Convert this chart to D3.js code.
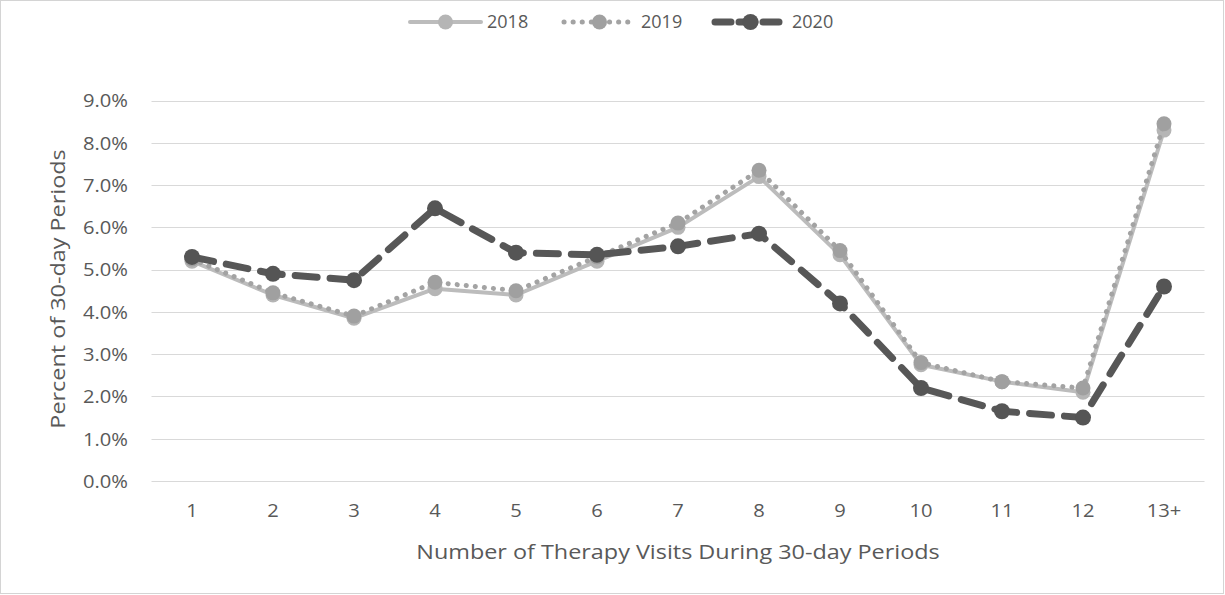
<!DOCTYPE html>
<html>
<head>
<meta charset="utf-8">
<script src="https://cdnjs.cloudflare.com/ajax/libs/d3/7.8.5/d3.min.js"></script>
<style>
  body{margin:0;background:#fff;}
  svg text{font-family:"Open Sans",sans-serif;fill:#595959;}
</style>
</head>
<body>
<svg id="chart" width="1225" height="595"></svg>
<script>
// values (percent)
var cats=['1','2','3','4','5','6','7','8','9','10','11','12','13+'];
var years=['2018','2019','2020'];
var v2018=[5.2,4.4,3.85,4.55,4.4,5.2,6.0,7.2,5.35,2.75,2.35,2.1,8.3];
var v2019=[5.25,4.45,3.9,4.7,4.5,5.3,6.1,7.35,5.45,2.8,2.35,2.2,8.45];
var v2020=[5.3,4.9,4.75,6.45,5.4,5.35,5.55,5.85,4.2,2.2,1.65,1.5,4.6];
var yTicks=[0,1,2,3,4,5,6,7,8,9];

var svg=d3.select('#chart');
var pLeft=151.5,pRight=1204.5,pTop=100.5,pBottom=481;

var x=d3.scaleBand().domain(cats).range([pLeft,pRight]);
var y=d3.scaleLinear().domain([0,9]).range([pBottom,pTop]);

// outer frame
svg.append('rect').attr('x',0.5).attr('y',0.5).attr('width',1223).attr('height',593)
  .attr('fill','none').attr('stroke','#d4d4d4');

// gridlines
svg.append('g').selectAll('line').data(yTicks).enter().append('line')
  .attr('x1',pLeft).attr('x2',pRight)
  .attr('y1',function(d){return Math.round(y(d))+0.5})
  .attr('y2',function(d){return Math.round(y(d))+0.5})
  .attr('stroke','#d9d9d9').attr('stroke-width',1);

// y axis
var yAxis=d3.axisLeft(y).tickValues(yTicks).tickSize(0).tickPadding(0)
  .tickFormat(function(d){return d.toFixed(1)+'%'});
var gy=svg.append('g').attr('transform','translate(128,0)').call(yAxis);
gy.select('.domain').remove();
gy.selectAll('text').attr('x',0).attr('dy','0.35em').attr('fill','#595959')
  .style('font-size','18px').attr('transform','scale(1.12,1)');

// x axis
var xAxis=d3.axisBottom(x).tickSize(0).tickPadding(0);
var gx=svg.append('g').attr('transform','translate(0,511)').call(xAxis);
gx.select('.domain').remove();
gx.selectAll('text').attr('y',0).attr('dy','0.35em').attr('fill','#595959')
  .style('font-size','18px').attr('transform','scale(1.12,1)');

// axis titles
svg.append('text').attr('transform','translate('+((pLeft+pRight)/2)+',552) scale(1.2,1)')
  .attr('dy','0.35em').attr('text-anchor','middle').style('font-size','19.5px')
  .text('Number of Therapy Visits During 30-day Periods');
svg.append('text').attr('transform','translate(58,289) rotate(-90) scale(1.2,1)').attr('dy','0.35em')
  .attr('text-anchor','middle').style('font-size','19.5px')
  .text('Percent of 30-day Periods');

var styles={
  '2018':{vals:v2018,color:'#bcbcbc',width:4,dash:null,cap:'round',r:7.5,mfill:'#b5b5b5'},
  '2019':{vals:v2019,color:'#a3a3a3',width:5,dash:'0.1 9',cap:'round',r:7.5,mfill:'#a0a0a0'},
  '2020':{vals:v2020,color:'#575757',width:7,dash:'22 13',cap:'round',r:8,mfill:'#555555'}
};

var line=d3.line()
  .x(function(d,i){return x(cats[i])+x.bandwidth()/2})
  .y(function(d){return y(d)});

years.forEach(function(yr){
  var s=styles[yr];
  var g=svg.append('g').attr('class','series s'+yr);
  g.append('path').datum(s.vals).attr('d',line)
    .attr('fill','none').attr('stroke',s.color).attr('stroke-width',s.width)
    .attr('stroke-linecap',s.cap).attr('stroke-linejoin','round')
    .attr('stroke-dasharray',s.dash);
  g.selectAll('circle').data(s.vals).enter().append('circle')
    .attr('cx',function(d,i){return x(cats[i])+x.bandwidth()/2})
    .attr('cy',function(d){return y(d)})
    .attr('r',s.r).attr('fill',s.mfill);
});

// legend
var legX=[408,562,713];
var leg=svg.append('g').attr('transform','translate(0,22)');
years.forEach(function(yr,i){
  var s=styles[yr];
  var g=leg.append('g').attr('transform','translate('+legX[i]+',0)');
  g.append('line').attr('x1',2).attr('x2',73).attr('y1',0).attr('y2',0)
    .attr('stroke',s.color).attr('stroke-width',s.width)
    .attr('stroke-linecap',s.cap).attr('stroke-dasharray',yr=='2020'?'16 8':s.dash);
  g.append('circle').attr('cx',37.5).attr('cy',0).attr('r',s.r).attr('fill',s.mfill);
  g.append('text').attr('x',79).attr('y',0).attr('dy','0.35em')
    .style('font-size','18px').text(yr);
});
</script>
</body>
</html>
